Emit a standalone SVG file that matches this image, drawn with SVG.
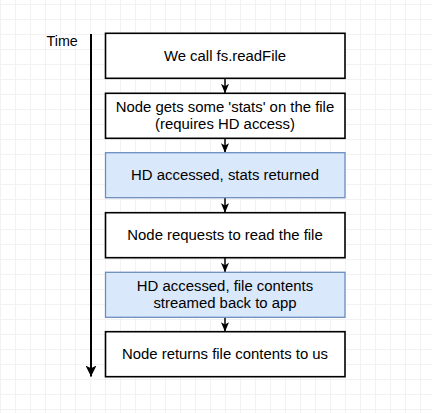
<svg xmlns="http://www.w3.org/2000/svg" width="432" height="413" viewBox="0 0 432 413">
  <defs>
    <pattern id="grid" width="15" height="15" patternUnits="userSpaceOnUse" x="0" y="4">
      <path d="M 0 0.5 H 15 M 0.5 0 V 15" fill="none" stroke="#f2f2f2" stroke-width="1"/>
    </pattern>
    <marker id="head" viewBox="0 0 10 10" refX="10" refY="5" markerWidth="9.5" markerHeight="9.5" markerUnits="userSpaceOnUse" orient="auto">
      <path d="M0,0.8 L10,5 L0,9.2 L2.5,5 Z" fill="#000"/>
    </marker>
    <marker id="timehead" viewBox="0 0 10 10" refX="10" refY="5" markerWidth="11" markerHeight="11" markerUnits="userSpaceOnUse" orient="auto">
      <path d="M0,0 L10,5 L0,10 L2.5,5 Z" fill="#000"/>
    </marker>
  </defs>
  <style>
    .box { fill: #ffffff; stroke: #000000; stroke-width: 1.6; }
    .hd { fill: #dae8fc; stroke: #6c8ebf; stroke-width: 1.3; }
    .lbl { font-family: "Liberation Sans", Arial, sans-serif; font-size: 14.9px; fill: #000; text-anchor: middle; }
    .edge { stroke: #000; stroke-width: 1.5; fill: none; marker-end: url(#head); }
  </style>

  <rect width="432" height="413" fill="#ffffff"/>
  <rect width="432" height="413" fill="url(#grid)"/>

  <!-- time axis -->
  <g id="time-axis">
    <text x="46.5" y="46" style="font-family: 'Liberation Sans', Arial, sans-serif; font-size: 14.3px;" fill="#000">Time</text>
    <line x1="91" y1="34" x2="91" y2="376.5" stroke="#000" stroke-width="2" marker-end="url(#timehead)"/>
  </g>

  <g id="connectors">
    <line class="edge" x1="225" y1="78.3" x2="225" y2="93.3"/>
    <line class="edge" x1="225" y1="138.3" x2="225" y2="152.7"/>
    <line class="edge" x1="225" y1="197.7" x2="225" y2="212.7"/>
    <line class="edge" x1="225" y1="257.7" x2="225" y2="272.3"/>
    <line class="edge" x1="225" y1="317.3" x2="225" y2="331.7"/>
  </g>

  <g id="read-file">
    <rect class="box" x="105.5" y="33.3" width="239.5" height="45"/>
    <text class="lbl" x="225" y="60.7">We call fs.readFile</text>
  </g>

  <g id="get-stats">
    <rect class="box" x="105.5" y="93.3" width="239.5" height="45"/>
    <text class="lbl" x="225" y="112.3">Node gets some 'stats' on the file</text>
    <text class="lbl" x="225" y="129.3">(requires HD access)</text>
  </g>

  <g id="stats-returned">
    <rect class="hd" x="105.5" y="152.7" width="239.5" height="45"/>
    <text class="lbl" x="225" y="180.4">HD accessed, stats returned</text>
  </g>

  <g id="request-read">
    <rect class="box" x="105.5" y="212.7" width="239.5" height="45"/>
    <text class="lbl" x="225" y="240.4">Node requests to read the file</text>
  </g>

  <g id="contents-streamed">
    <rect class="hd" x="105.5" y="272.3" width="239.5" height="45"/>
    <text class="lbl" x="225" y="291.3">HD accessed, file contents</text>
    <text class="lbl" x="225" y="308.3">streamed back to app</text>
  </g>

  <g id="return-contents">
    <rect class="box" x="105.5" y="331.7" width="239.5" height="45"/>
    <text class="lbl" x="225" y="359.4">Node returns file contents to us</text>
  </g>
</svg>
